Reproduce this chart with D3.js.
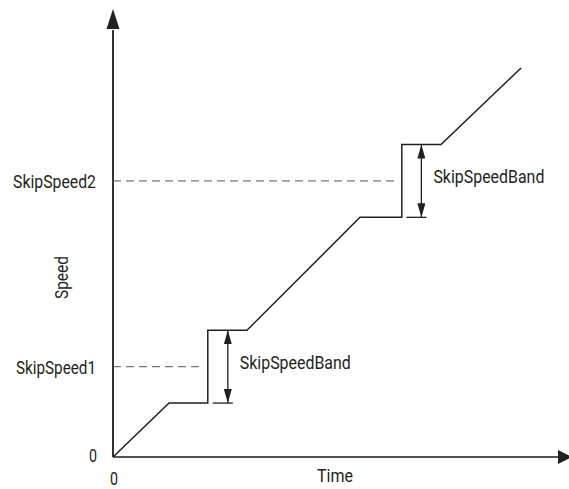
<!DOCTYPE html>
<html><head><meta charset="utf-8">
<script src="https://cdn.jsdelivr.net/npm/d3@7"></script>
<style>html,body{margin:0;padding:0;background:#fff;}svg{display:block;font-family:Roboto,"DejaVu Sans Condensed",sans-serif;}</style>
</head><body>
<script>
// Speed profile (time units, speed units)
const timePoints  = [0, 1.26, 2.13, 2.13, 3.01, 5.55, 6.49, 6.49, 7.37, 9.17];
const speedPoints = [0, 1.26, 1.26, 2.96, 2.96, 5.60, 5.60, 7.30, 7.30, 9.09];
const skipSpeeds = [2.11, 6.45];
const skipLabels = ["SkipSpeed1", "SkipSpeed2"];
const skipBand = 1.7;
const bandTimes = [2.58, 6.93];      // where the band arrows sit
const stepTimes = [2.13, 6.49];      // time of the vertical jumps
const axisLabels = {x: "Time", y: "Speed"};
const zeroLabel = "0";
const bandLabel = "SkipSpeedBand";

const W = 569, H = 489;
const x = d3.scaleLinear().domain([0, 10]).range([113, 558]);
const y = d3.scaleLinear().domain([0, 10]).range([457, 29]);
const ink = "#231f20";
const FS = 19;

const svg = d3.select("body").append("svg").attr("width", W).attr("height", H);
const defs = svg.append("defs");
defs.append("marker").attr("id","ah").attr("viewBox","0 0 14 8").attr("refX",14).attr("refY",4)
  .attr("markerWidth",14).attr("markerHeight",8).attr("markerUnits","userSpaceOnUse")
  .attr("orient","auto-start-reverse")
  .append("path").attr("d","M0,0 L14,4 L0,8 Z").attr("fill",ink);

function label(xp, yp, txt, len, anchor) {
  return svg.append("text").attr("x", xp).attr("y", yp).attr("text-anchor", anchor || "start")
    .attr("font-size", FS).attr("fill", ink)
    .attr("textLength", len).attr("lengthAdjust", "spacingAndGlyphs").text(txt);
}

// axes
svg.append("line").attr("x1", x(0)).attr("x2", x(0)).attr("y1", y(0)).attr("y2", y(10)+1)
  .attr("stroke", "#333").attr("stroke-width", 2);
svg.append("path").attr("d", `M${x(0)-6.5},${y(10)} L${x(0)+6.5},${y(10)} L${x(0)},${y(10)-20} Z`).attr("fill", ink);
svg.append("line").attr("x1", x(0)).attr("x2", x(10)+1).attr("y1", y(0)).attr("y2", y(0))
  .attr("stroke", "#555").attr("stroke-width", 2);
svg.append("path").attr("d", `M${x(10)},${y(0)-7} L${x(10)},${y(0)+7} L${x(10)+14},${y(0)} Z`).attr("fill", ink);

// dashed skip speed lines
const skipLabelPos = [{x: 16, len: 80}, {x: 13, len: 83}];
skipSpeeds.forEach((s, i) => {
  svg.append("line").attr("x1", x(0)).attr("x2", x(stepTimes[i]) - 4)
    .attr("y1", y(s)).attr("y2", y(s))
    .attr("stroke", "#555").attr("stroke-width", 1).attr("stroke-dasharray", "8,5");
  label(skipLabelPos[i].x, y(s) + 7, skipLabels[i], skipLabelPos[i].len);
});

// speed curve
const line = d3.line().x(d => x(d[0])).y(d => y(d[1]));
svg.append("path").datum(timePoints.map((t, i) => [t, speedPoints[i]]))
  .attr("d", line).attr("fill", "none").attr("stroke", ink).attr("stroke-width", 1.5);

// band arrows
skipSpeeds.forEach((s, i) => {
  const bx = x(bandTimes[i]);
  const lo = y(s - skipBand / 2), hi = y(s + skipBand / 2);
  svg.append("line").attr("x1", bx).attr("x2", bx).attr("y1", lo).attr("y2", hi)
    .attr("stroke", ink).attr("stroke-width", 1.3)
    .attr("marker-start", "url(#ah)").attr("marker-end", "url(#ah)");
  svg.append("line").attr("x1", bx - 15).attr("x2", bx + 5).attr("y1", lo).attr("y2", lo)
    .attr("stroke", ink).attr("stroke-width", 1.3);
  label(bx + 12, y(s) + 2, bandLabel, 111);
});

// zero labels and axis titles
label(89, y(0) + 5, zeroLabel, 8);
label(110, y(0) + 28, zeroLabel, 8);
label(335, y(0) + 25, axisLabels.x, 36, "middle");
svg.append("text").attr("transform", `translate(68,277.5) rotate(-90)`).attr("text-anchor", "middle")
  .attr("font-size", FS).attr("fill", ink)
  .attr("textLength", 43).attr("lengthAdjust", "spacingAndGlyphs").text(axisLabels.y);
</script>
</body></html>
